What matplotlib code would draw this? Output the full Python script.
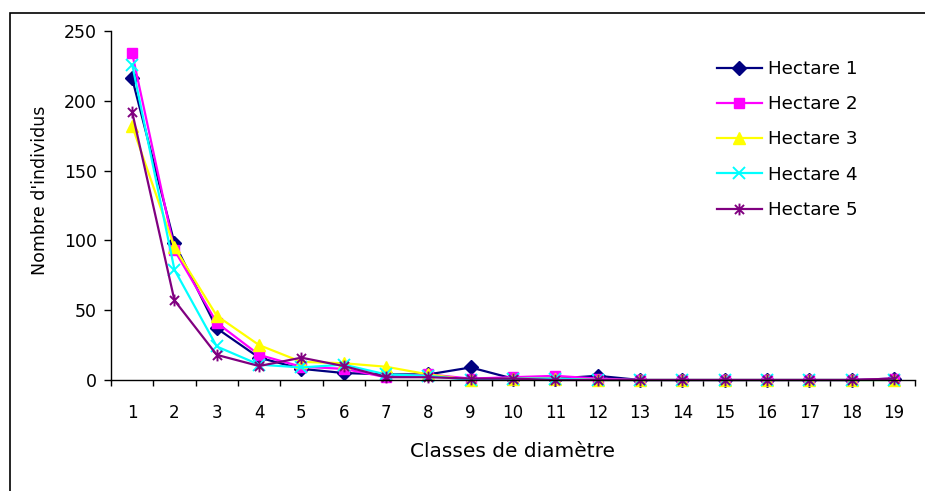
import numpy as np
import matplotlib
matplotlib.use('Agg')
from matplotlib import pyplot as plt
from matplotlib.path import Path
from matplotlib.patches import Rectangle

plt.rcParams['font.family'] = ['DejaVu Sans']

classes = list(range(1, 20))
hectare1 = [216, 98, 37, 16, 8, 5, 4, 4, 9, 1, 1, 3, 0, 0, 0, 0, 0, 0, 1]
hectare2 = [234, 93, 41, 18, 9.5, 8, 2, 4, 1, 2, 3, 1, 0, 0, 0, 0, 0, 0, 1]
hectare3 = [182, 95, 46, 25, 13, 12, 9.5, 4, 0, 1, 1, 0, 0, 0, 0, 0, 0, 0, 0]
hectare4 = [226, 79, 24, 11, 9, 11, 4, 3, 0, 1, 1, 0, 0, 0, 0, 0, 0, 0, 0]
hectare5 = [192, 57, 18, 10, 16, 10, 2, 2, 1, 1, 0, 0, 0, 0, 0, 0, 0, 0, 1]
labels = ['Hectare 1', 'Hectare 2', 'Hectare 3', 'Hectare 4', 'Hectare 5']

# asterisk marker like excel (x plus vertical bar)
star = Path([(-1, -1), (1, 1), (-1, 1), (1, -1), (0, -1.3), (0, 1.3)],
            [Path.MOVETO, Path.LINETO, Path.MOVETO, Path.LINETO, Path.MOVETO, Path.LINETO])

styles = [
  dict(color='#000080', marker='D', ms=7, mfc='#000080'),
  dict(color='#FF00FF', marker='s', ms=7, mfc='#FF00FF'),
  dict(color='#FFFF00', marker='^', ms=8.5, mfc='#FFFF00'),
  dict(color='#00FFFF', marker='x', ms=8.5, mew=1.4, mfc='none'),
  dict(color='#800080', marker=star, ms=8.5, mew=1.4, mfc='none'),
]

W, H = 925, 491
fig = plt.figure(figsize=(W/100, H/100), dpi=100)
ax = fig.add_axes([111/W, 1-380/H, (915-111)/W, (380-31)/H])

for data, lab, st in zip([hectare1, hectare2, hectare3, hectare4, hectare5], labels, styles):
  ax.plot(classes, data, lw=1.6, label=lab, clip_on=False, **st)

ax.set_xlim(0.5, 19.5)
ax.set_ylim(0, 250)
ax.set_yticks(np.arange(0, 251, 50))
ax.set_xticks(np.arange(0.5, 20, 1))
ax.set_xticklabels([])
ax.set_xticks(classes, minor=True)
ax.set_xticklabels([str(c) for c in classes], minor=True)
ax.tick_params(axis='x', which='major', direction='out', length=4, width=1)
ax.tick_params(axis='x', which='minor', length=0, pad=17, labelsize=12)
ax.tick_params(axis='y', direction='out', length=5, width=1, pad=5, labelsize=12.5)
ax.spines['top'].set_visible(False)
ax.spines['right'].set_visible(False)
ax.spines['left'].set_linewidth(1)
ax.spines['bottom'].set_linewidth(1)

fig.text(513/W, 1-457/H, 'Classes de diamètre', fontsize=14.5, ha='center', va='baseline')
fig.text(40/W, 1-190.5/H, "Nombre d'individus", fontsize=12.5, rotation=90, ha='center', va='center')

leg = ax.legend(loc='upper left', bbox_to_anchor=(717/W, 1-60/H), bbox_transform=fig.transFigure,
                frameon=False, fontsize=13.2, borderpad=0, borderaxespad=0,
                handlelength=2.45, handletextpad=0.33, labelspacing=0.94)

# outer chart border
fig.patches.append(Rectangle((10/W, -0.1), 1.1, 1 - 13/H + 0.1, transform=fig.transFigure,
                             fill=False, edgecolor='black', lw=1.2))

fig.savefig('out.png', dpi=100)
